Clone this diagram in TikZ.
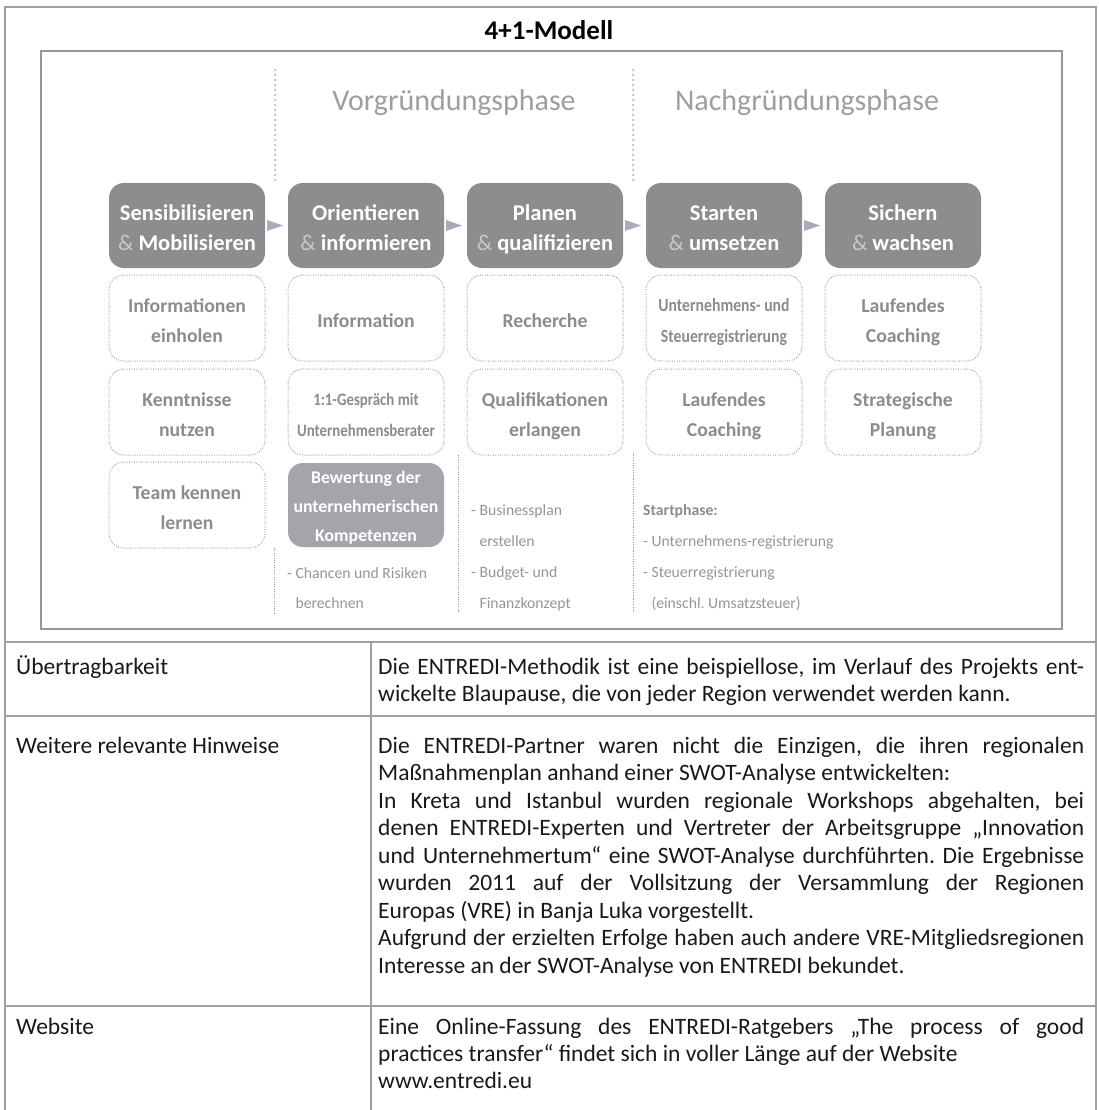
\documentclass[tikz,border=0pt]{standalone}
\usepackage{fontspec}
\setmainfont{Carlito}
\newfontfamily\condfont[FakeStretch=0.85]{Carlito}
\usetikzlibrary{calc}
\definecolor{darkfill}{RGB}{141,141,143}
\definecolor{lightfill}{RGB}{164,164,170}
\definecolor{ampc}{RGB}{200,200,200}
\definecolor{headc}{RGB}{158,158,158}
\definecolor{boxtextc}{RGB}{140,140,140}
\definecolor{dotc}{RGB}{150,150,150}
\definecolor{listc}{RGB}{150,150,150}
\definecolor{phasedot}{RGB}{160,160,180}
\definecolor{arrowc}{RGB}{170,170,188}
\definecolor{framec}{RGB}{160,160,160}
\definecolor{innerc}{RGB}{150,150,150}
\definecolor{tablec}{RGB}{25,25,25}
\newcommand\stb{\rule[-4pt]{0pt}{27pt}}
\newcommand\stt{\rule[-4pt]{0pt}{26pt}}
\newcommand\stc{\rule[-4pt]{0pt}{22pt}}
\newcommand\jrow[1]{\hbox to 706pt{#1}}
\newcommand\lrow[1]{\hbox{#1}}
\newcommand\ind{\hphantom{- }}
\begin{document}
\frenchspacing
\begin{tikzpicture}[x=1pt,y=-1pt,
  darkbox/.style={rounded corners=15pt, fill=darkfill, minimum width=156pt, minimum height=85pt,
    inner sep=0pt, text=white, font=\bfseries\fontsize{22.5}{30}\selectfont, align=center},
  lightbox/.style={rounded corners=15pt, fill=lightfill, minimum width=156pt, minimum height=84pt,
    inner sep=0pt, text=white, font=\bfseries\fontsize{17.8}{29}\selectfont, align=center},
  dotbox/.style={rounded corners=15pt, draw=dotc, line width=1pt, dash pattern=on 0.8pt off 1.6pt,
    minimum width=156pt, minimum height=86pt, inner sep=0pt, text=boxtextc,
    font=\bfseries\fontsize{19.7}{30}\selectfont, align=center},
  condbox/.style={dotbox, font=\condfont\bfseries\fontsize{18.5}{31}\selectfont},
  listtext/.style={anchor=base west, inner sep=0pt, text=listc},
  tabtext/.style={anchor=base west, inner sep=0pt, text=tablec, font=\fontsize{23.5}{27.5}\selectfont},
  frame/.style={draw=framec, line width=2.5pt},
  thinrule/.style={draw=framec, line width=2pt},
  phaseline/.style={draw=phasedot, line width=2pt, dash pattern=on 0pt off 5pt, line cap=round},
  fineline/.style={draw=dotc, line width=0.9pt, dash pattern=on 0.8pt off 1.6pt},
  tri/.style={fill=arrowc}
]
\useasboundingbox (0,0) rectangle (1098,1110);
\fill[white] (0,0) rectangle (1098,1110);

% outer frame and table rules
\draw[frame] (5,1110) -- (5,7) -- (1096,7) -- (1096,1110);
\draw[frame] (5,642) -- (1096,642);
\draw[thinrule] (5,716) -- (1096,716);
\draw[thinrule] (5,1006) -- (1096,1006);
\draw[thinrule] (371,642) -- (371,1110);

% inner box
\draw[draw=innerc, line width=1.3pt] (41,51) rectangle (1062,629);

% title
\node[anchor=base, inner sep=0pt, font=\bfseries\fontsize{27}{32}\selectfont] (title) at (549,40) {4+1-Modell};

% phase headings and separators
\draw[phaseline] (275,70) -- (275,183);
\draw[phaseline] (633,70) -- (633,183);
\node[anchor=base, inner sep=0pt, text=headc, font=\fontsize{30}{36}\selectfont] (ph1) at (454,111) {Vorgründungsphase};
\node[anchor=base, inner sep=0pt, text=headc, font=\fontsize{30}{36}\selectfont] (ph2) at (807,111) {Nachgründungsphase};

% main stage boxes
\node[darkbox] (b1) at (187,225.5) {\stb Sensibilisieren\\\stb{\color{ampc}\mdseries\&} Mobilisieren};
\node[darkbox] (b2) at (366,225.5) {\stb Orientieren\\\stb{\color{ampc}\mdseries\&} informieren};
\node[darkbox] (b3) at (545,225.5) {\stb Planen\\\stb{\color{ampc}\mdseries\&} qualifizieren};
\node[darkbox] (b4) at (724,225.5) {\stb Starten\\\stb{\color{ampc}\mdseries\&} umsetzen};
\node[darkbox] (b5) at (903,225.5) {\stb Sichern\\\stb{\color{ampc}\mdseries\&} wachsen};

% arrow triangles between stages
\foreach \a/\b in {b1/b2,b2/b3,b3/b4,b4/b5}{
  \fill[tri] ($(\a.east)!0.5!(\b.west)+(-1.5,0)$) +(-8,-5.5) -- +(8,0) -- +(-8,5.5) -- cycle;
}

% dotted boxes row 1
\node[dotbox] (r11) at (187,318) {\stt Informationen\\\stt einholen};
\node[dotbox] (r12) at (366,318) {\stt Information};
\node[dotbox] (r13) at (545,318) {\stt Recherche};
\node[condbox] (r14) at (724,318) {\stt Unternehmens- und\\\stt Steuerregistrierung};
\node[dotbox] (r15) at (903,318) {\stt Laufendes\\\stt Coaching};

% dotted boxes row 2
\node[dotbox] (r21) at (187,412) {\stt Kenntnisse\\\stt nutzen};
\node[condbox, font=\condfont\bfseries\fontsize{17.5}{31}\selectfont] (r22) at (366,412) {\stt 1:1-Gespräch mit\\\stt Unternehmensberater};
\node[dotbox] (r23) at (545,412) {\stt Qualifikationen\\\stt erlangen};
\node[dotbox] (r24) at (724,412) {\stt Laufendes\\\stt Coaching};
\node[dotbox] (r25) at (903,412) {\stt Strategische\\\stt Planung};

% row 3
\node[dotbox] (r31) at (187,505) {\stt Team kennen\\\stt lernen};
\node[lightbox] (r32) at (366,505) {\stc Bewertung der\\\stc unternehmerischen\\\stc Kompetenzen};

% fine vertical dotted lines
\draw[fineline] (274,548) -- (274,613);
\draw[fineline] (458,455) -- (458,613);
\draw[fineline] (633,453) -- (633,613);

% lists
\node[listtext] (l2) at (287,578) {\vtop{\fontsize{15.7}{30}\selectfont\lrow{- Chancen und Risiken}\lrow{\ind berechnen}}};
\node[listtext] (l3) at (471,515) {\vtop{\fontsize{15.7}{31}\selectfont\lrow{- Businessplan}\lrow{\ind erstellen}\lrow{- Budget- und}\lrow{\ind Finanzkonzept}}};
\node[listtext] (l4) at (643,515) {\vtop{\fontsize{15.7}{31}\selectfont\lrow{{\color{boxtextc}\bfseries Startphase:}}\lrow{- Unternehmens-registrierung}\lrow{- Steuerregistrierung}\lrow{\ind(einschl. Umsatzsteuer)}}};

% table texts
\node[tabtext] (t1l) at (16,674) {Übertragbarkeit};
\node[tabtext] (t1r) at (378,674) {\vtop{\fontsize{23.5}{27.5}\selectfont
  \jrow{Die ENTREDI-Methodik ist eine beispiellose, im Verlauf des Projekts ent-}
  \lrow{wickelte Blaupause, die von jeder Region verwendet werden kann.}}};

\node[tabtext] (t2l) at (16,753) {Weitere relevante Hinweise};
\node[tabtext] (t2r) at (378,753) {\vtop{\fontsize{23.5}{27.5}\selectfont
  \jrow{Die ENTREDI-Partner waren nicht die Einzigen, die ihren regionalen}
  \lrow{Maßnahmenplan anhand einer SWOT-Analyse entwickelten:}
  \jrow{In Kreta und Istanbul wurden regionale Workshops abgehalten, bei}
  \jrow{denen ENTREDI-Experten und Vertreter der Arbeitsgruppe „Innovation}
  \jrow{und Unternehmertum“ eine SWOT-Analyse durchführten. Die Ergebnisse}
  \jrow{wurden 2011 auf der Vollsitzung der Versammlung der Regionen}
  \lrow{Europas (VRE) in Banja Luka vorgestellt.}
  \jrow{Aufgrund der erzielten Erfolge haben auch andere VRE-Mitgliedsregionen}
  \lrow{Interesse an der SWOT-Analyse von ENTREDI bekundet.}}};

\node[tabtext] (t3l) at (16,1034) {Website};
\node[tabtext] (t3r) at (378,1034) {\vtop{\fontsize{23.5}{27}\selectfont
  \jrow{Eine Online-Fassung des ENTREDI-Ratgebers „The process of good}
  \lrow{practices transfer“ findet sich in voller Länge auf der Website}
  \lrow{www.entredi.eu}}};
\end{tikzpicture}
\end{document}
